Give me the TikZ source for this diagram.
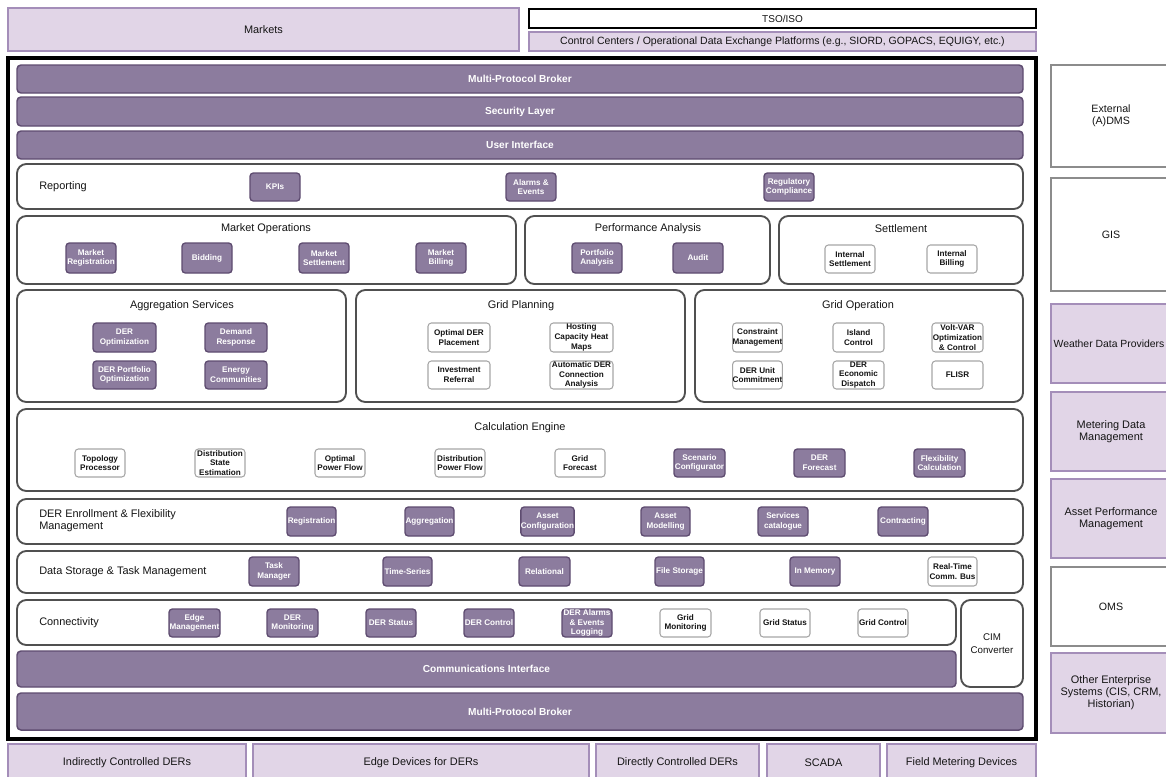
\documentclass[tikz,border=0pt]{standalone}
\usepackage{fontspec}
\setmainfont{Liberation Sans}
\definecolor{lavfill}{HTML}{E1D5E7}
\definecolor{lavline}{HTML}{A48EB9}
\definecolor{pfill}{HTML}{8C7C9E}
\definecolor{pline}{HTML}{5E4C70}
\definecolor{cline}{HTML}{505050}
\definecolor{sline}{HTML}{A6A6A6}
\definecolor{rline}{HTML}{8C8C8C}
\definecolor{ink}{HTML}{141414}
% box from corner (x1,y1) to corner (x2,y2), in pixel units
\newcommand\bx[7]{\node[#1,minimum width={(#5-#3)*0.75pt},minimum height={(#6-#4)*0.75pt}] (#2) at ({(#3+#5)/2},{(#4+#6)/2}) {#7};}
\tikzset{
  every node/.style={inner sep=0pt, align=center, text=ink},
  lav/.style={draw=lavline, fill=lavfill, line width=1.1pt, font=\fontsize{8.2}{9}\selectfont},
  tsobox/.style={draw=black, fill=white, line width=1.1pt, font=\fontsize{7.5}{9}\selectfont},
  frame/.style={draw=black, line width=2.3pt},
  bar/.style={draw=pline, fill=pfill, rounded corners=3pt, line width=1.1pt, text=white, font=\fontsize{7.6}{9}\selectfont\bfseries},
  cont/.style={draw=cline, fill=white, rounded corners=7pt, line width=1.4pt},
  pb/.style={draw=pline, fill=pfill, rounded corners=2.5pt, line width=1pt, text=white, font=\fontsize{6.1}{7.3}\selectfont\bfseries},
  wb/.style={draw=sline, fill=white, rounded corners=2.5pt, line width=0.8pt, font=\fontsize{6.1}{7.3}\selectfont\bfseries},
  ext/.style={draw=rline, fill=white, line width=1.1pt, font=\fontsize{8}{9}\selectfont},
  ttl/.style={font=\fontsize{8.2}{9}\selectfont},
  lft/.style={font=\fontsize{8.2}{9}\selectfont, anchor=west, align=left},
}
\begin{document}
\begin{tikzpicture}[x=0.75pt,y=-0.75pt]
\clip (0,0) rectangle (1166,776);
\fill[white] (0,0) rectangle (1166,776);

% ---- external parties above the platform
\bx{lav}{markets}{8}{8}{519}{51}{Markets}
\bx{tsobox}{tso}{529}{9}{1036}{28}{TSO/ISO}
\bx{lav,font=\fontsize{7.9}{9}\selectfont}{ctrl}{529}{32}{1036}{51}{Control Centers / Operational Data Exchange Platforms (e.g., SIORD, GOPACS, EQUIGY, etc.)}

% ---- platform frame
\bx{frame}{frame}{8}{58}{1036}{739}{}

% ---- top layers
\bx{bar}{mpbtop}{17}{65}{1023}{93}{Multi-Protocol Broker}
\bx{bar}{sec}{17}{97}{1023}{126}{Security Layer}
\bx{bar}{ui}{17}{131}{1023}{159}{User Interface}

% ---- reporting
\bx{cont}{rep}{17}{164}{1023}{209}{}
\node[lft] (reptitle) at (39,187) {Reporting};
\bx{pb}{kpi}{250}{173}{300}{201}{KPIs}
\bx{pb}{alarms}{506}{173}{556}{201}{Alarms \&\\Events}
\bx{pb}{regcomp}{764}{173}{814}{201}{Regulatory\\Compliance}

% ---- market operations
\bx{cont}{mo}{17}{216}{516}{284}{}
\node[ttl] (motitle) at (266,229) {Market Operations};
\bx{pb}{mreg}{66}{243}{116}{273}{Market\\Registration}
\bx{pb}{bid}{182}{243}{232}{273}{Bidding}
\bx{pb}{mset}{299}{243}{349}{273}{Market\\Settlement}
\bx{pb}{mbill}{416}{243}{466}{273}{Market\\Billing}

% ---- performance analysis
\bx{cont}{pa}{525}{216}{770}{284}{}
\node[ttl] (patitle) at (648,229) {Performance Analysis};
\bx{pb}{port}{572}{243}{622}{273}{Portfolio\\Analysis}
\bx{pb}{audit}{673}{243}{723}{273}{Audit}

% ---- settlement
\bx{cont}{setl}{779}{216}{1023}{284}{}
\node[ttl] (setltitle) at (901,229) {Settlement};
\bx{wb}{iset}{825}{245}{875}{273}{Internal\\Settlement}
\bx{wb}{ibill}{927}{245}{977}{273}{Internal\\Billing}

% ---- aggregation services
\bx{cont}{agg}{17}{290}{346}{402}{}
\node[ttl] (aggtitle) at (182,306) {Aggregation Services};
\bx{pb}{dopt}{93}{323}{156}{352}{DER\\Optimization}
\bx{pb}{dresp}{205}{323}{267}{352}{Demand\\Response}
\bx{pb}{dport}{93}{361}{156}{389}{DER Portfolio\\Optimization}
\bx{pb}{ecom}{205}{361}{267}{389}{Energy\\Communities}

% ---- grid planning
\bx{cont}{gp}{356}{290}{685}{402}{}
\node[ttl] (gptitle) at (521,306) {Grid Planning};
\bx{wb}{odp}{428}{323}{490}{352}{Optimal DER\\Placement}
\bx{wb}{hchm}{550}{323}{613}{352}{Hosting\\Capacity Heat\\Maps}
\bx{wb}{ir}{428}{361}{490}{389}{Investment\\Referral}
\bx{wb}{adca}{550}{361}{613}{389}{Automatic DER\\Connection\\Analysis}

% ---- grid operation
\bx{cont}{go}{695}{290}{1023}{402}{}
\node[ttl] (gotitle) at (858,306) {Grid Operation};
\bx{wb}{cm}{733}{323}{782}{352}{Constraint\\Management}
\bx{wb}{ic}{833}{323}{884}{352}{Island\\Control}
\bx{wb}{vv}{932}{323}{983}{352}{Volt-VAR\\Optimization\\\& Control}
\bx{wb}{duc}{733}{361}{782}{389}{DER Unit\\Commitment}
\bx{wb}{ded}{833}{361}{884}{389}{DER\\Economic\\Dispatch}
\bx{wb}{flisr}{932}{361}{983}{389}{FLISR}

% ---- calculation engine
\bx{cont}{ce}{17}{409}{1023}{491}{}
\node[ttl] (cetitle) at (520,428) {Calculation Engine};
\bx{wb}{tp}{75}{449}{125}{477}{Topology\\Processor}
\bx{wb}{dse}{195}{449}{245}{477}{Distribution\\State\\Estimation}
\bx{wb}{opf}{315}{449}{365}{477}{Optimal\\Power Flow}
\bx{wb}{dpf}{435}{449}{485}{477}{Distribution\\Power Flow}
\bx{wb}{gf}{555}{449}{605}{477}{Grid\\Forecast}
\bx{pb}{sc}{674}{449}{725}{477}{Scenario\\Configurator}
\bx{pb}{derf}{794}{449}{845}{477}{DER\\Forecast}
\bx{pb}{flex}{914}{449}{965}{477}{Flexibility\\Calculation}

% ---- DER enrollment & flexibility management
\bx{cont}{enr}{17}{499}{1023}{544}{}
\node[lft] (enrtitle) at (39,521) {DER Enrollment \& Flexibility\\Management};
\bx{pb}{reg}{287}{507}{336}{536}{Registration}
\bx{pb}{aggr}{405}{507}{454}{536}{Aggregation}
\bx{pb}{acfg}{522}{507}{573}{536}{Asset\\Configuration}
\bx{pb}{amod}{641}{507}{690}{536}{Asset\\Modelling}
\bx{pb}{scat}{758}{507}{808}{536}{Services\\catalogue}
\bx{pb}{contr}{878}{507}{928}{536}{Contracting}

% ---- data storage & task management
\bx{cont}{ds}{17}{551}{1023}{593}{}
\node[lft] (dstitle) at (39,572) {Data Storage \& Task Management};
\bx{pb}{tm}{249}{557}{299}{586}{Task\\Manager}
\bx{pb}{ts}{383}{557}{432}{586}{Time-Series}
\bx{pb}{rel}{519}{557}{570}{586}{Relational}
\bx{pb}{fs}{655}{557}{704}{586}{File Storage}
\bx{pb}{mem}{790}{557}{840}{586}{In Memory}
\bx{wb}{rtb}{928}{557}{977}{586}{Real-Time\\Comm. Bus}

% ---- connectivity
\bx{cont}{con}{17}{600}{956}{645}{}
\node[lft] (contitle) at (39,623) {Connectivity};
\bx{pb}{edge}{169}{609}{220}{637}{Edge\\Management}
\bx{pb}{dmon}{267}{609}{318}{637}{DER\\Monitoring}
\bx{pb}{dstat}{366}{609}{416}{637}{DER Status}
\bx{pb}{dctl}{464}{609}{514}{637}{DER Control}
\bx{pb}{dal}{562}{609}{612}{637}{DER Alarms\\\& Events\\Logging}
\bx{wb}{gmon}{660}{609}{711}{637}{Grid\\Monitoring}
\bx{wb}{gstat}{760}{609}{810}{637}{Grid Status}
\bx{wb}{gctl}{858}{609}{908}{637}{Grid Control}
\bx{cont,font=\fontsize{7.3}{9.5}\selectfont}{cim}{961}{600}{1023}{687}{CIM\\Converter}

% ---- bottom layers
\bx{bar}{comms}{17}{651}{956}{687}{Communications Interface}
\bx{bar}{mpbbot}{17}{693}{1023}{730}{Multi-Protocol Broker}

% ---- field side
\bx{lav}{icd}{8}{744}{246}{781}{Indirectly Controlled DERs}
\bx{lav}{edd}{253}{744}{589}{781}{Edge Devices for DERs}
\bx{lav}{dcd}{596}{744}{759}{781}{Directly Controlled DERs}
\bx{lav}{scada}{767}{744}{880}{781}{SCADA}
\bx{lav}{fmd}{887}{744}{1036}{781}{Field Metering Devices}

% ---- enterprise systems
\bx{ext}{adms}{1051}{65}{1171}{167}{External\\(A)DMS}
\bx{ext}{gis}{1051}{178}{1171}{291}{GIS}
\bx{lav,font=\fontsize{7.8}{9}\selectfont}{wdp}{1051}{304}{1167}{383}{Weather Data Providers}
\bx{lav}{mdm}{1051}{392}{1171}{471}{Metering Data\\Management}
\bx{lav}{apm}{1051}{479}{1171}{558}{Asset Performance\\Management}
\bx{ext}{oms}{1051}{567}{1171}{646}{OMS}
\bx{lav}{oes}{1051}{653}{1171}{733}{Other Enterprise\\Systems (CIS, CRM,\\Historian)}
\end{tikzpicture}
\end{document}
